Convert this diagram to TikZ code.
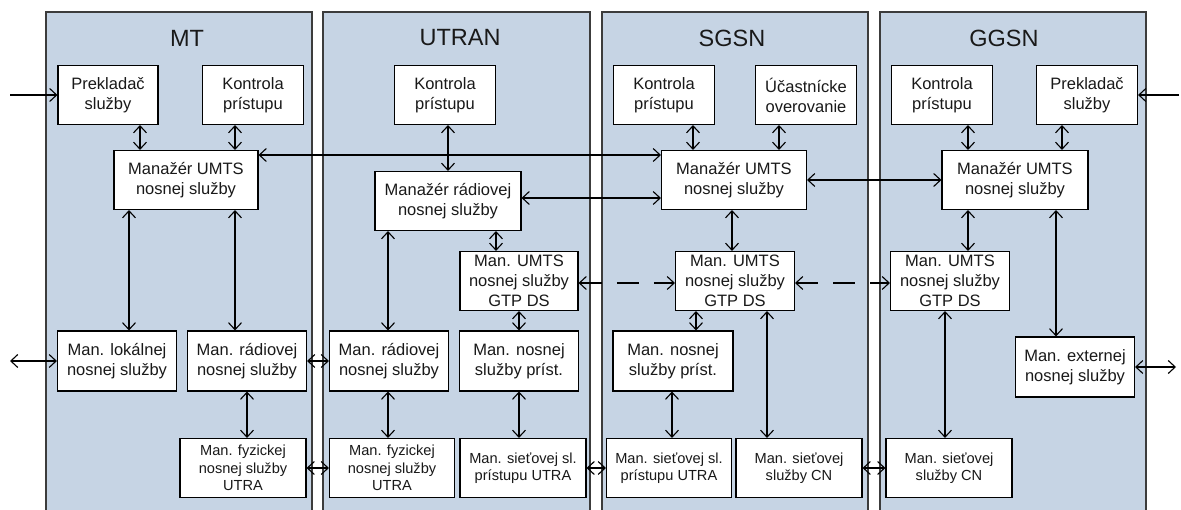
\documentclass[tikz,border=0pt]{standalone}
\usepackage{fontspec}
\setmainfont{Liberation Sans}
\usetikzlibrary{arrows.meta}
\definecolor{panelfill}{RGB}{198,212,228}
\definecolor{panelline}{RGB}{60,60,60}
\definecolor{txt}{RGB}{25,25,25}
\begin{document}
\begin{tikzpicture}[x=1pt,y=-1pt,
  >={Straight Barb[length=7pt,width=13pt]},
  panelborder/.style={draw=panelline,line width=1.3pt},
  box/.style={draw=black,fill=white,line width=1.1pt,align=center,inner sep=0pt,text=txt,font=\fontsize{16.5}{20}\selectfont},
  smallbox/.style={box,font=\fontsize{14.6}{17.5}\selectfont},
  paneltitle/.style={text=txt,font=\fontsize{23.5}{28}\selectfont},
  conn/.style={<->,line width=1.1pt},
  oneway/.style={->,line width=1.1pt},
  dashconn/.style={<->,line width=1.1pt,dash pattern=on 22pt off 15pt}
]
\useasboundingbox (0,0) rectangle (1181,510);
% panels
\foreach \l/\r in {46/312, 323/590, 602/868, 880/1146} {
  \fill[panelfill] (\l,12) rectangle (\r,512);
  \draw[panelborder] (\l,512) -- (\l,12) -- (\r,12) -- (\r,512);
}
\node[paneltitle] (tMT) at (187,38) {MT};
\node[paneltitle] (tUT) at (460,38) {UTRAN};
\node[paneltitle] (tSG) at (732,38) {SGSN};
\node[paneltitle] (tGG) at (1004,38) {GGSN};

% MT
\node[box,minimum width=100,minimum height=59] (mt_pre) at (108,95) {Prekladač\\služby};
\node[box,minimum width=101,minimum height=59] (mt_kon) at (253,95) {Kontrola\\prístupu};
\node[box,minimum width=144,minimum height=59] (mt_man) at (186,180) {Manažér UMTS\\nosnej služby};
\node[box,minimum width=119,minimum height=60] (mt_lok) at (117,361) {Man. lokálnej\\nosnej služby};
\node[box,minimum width=119,minimum height=60] (mt_rad) at (247,361) {Man. rádiovej\\nosnej služby};
\node[smallbox,minimum width=126,minimum height=59] (mt_fyz) at (243,468) {Man. fyzickej\\nosnej služby\\UTRA};

% UTRAN
\node[box,minimum width=101,minimum height=59] (ut_kon) at (445,95) {Kontrola\\prístupu};
\node[box,minimum width=146,minimum height=59] (ut_rad) at (448,201) {Manažér rádiovej\\nosnej služby};
\node[box,minimum width=118,minimum height=59] (ut_gtp) at (519,281) {Man. UMTS\\nosnej služby\\GTP DS};
\node[box,minimum width=119,minimum height=60] (ut_rad2) at (389,361) {Man. rádiovej\\nosnej služby};
\node[box,minimum width=119,minimum height=60] (ut_pri) at (519,361) {Man. nosnej\\služby príst.};
\node[smallbox,minimum width=125,minimum height=59] (ut_fyz) at (392,468) {Man. fyzickej\\nosnej služby\\UTRA};
\node[smallbox,minimum width=126,minimum height=59] (ut_sie) at (523,468) {Man. sieťovej sl.\\prístupu UTRA};

% SGSN
\node[box,minimum width=101,minimum height=59] (sg_kon) at (664,95) {Kontrola\\prístupu};
\node[box,minimum width=101,minimum height=59] (sg_uca) at (806,95) {Účastnícke\\overovanie};
\node[box,minimum width=145,minimum height=59] (sg_man) at (734,180) {Manažér UMTS\\nosnej služby};
\node[box,minimum width=119,minimum height=59] (sg_gtp) at (735,281) {Man. UMTS\\nosnej služby\\GTP DS};
\node[box,minimum width=120,minimum height=60] (sg_pri) at (673,361) {Man. nosnej\\služby príst.};
\node[smallbox,minimum width=125,minimum height=59] (sg_sie) at (669,468) {Man. sieťovej sl.\\prístupu UTRA};
\node[smallbox,minimum width=126,minimum height=59] (sg_cn) at (799,468) {Man. sieťovej\\služby CN};

% GGSN
\node[box,minimum width=101,minimum height=59] (gg_kon) at (942,95) {Kontrola\\prístupu};
\node[box,minimum width=101,minimum height=59] (gg_pre) at (1087,95) {Prekladač\\služby};
\node[box,minimum width=146,minimum height=59] (gg_man) at (1015,180) {Manažér UMTS\\nosnej služby};
\node[box,minimum width=119,minimum height=59] (gg_gtp) at (950,281) {Man. UMTS\\nosnej služby\\GTP DS};
\node[box,minimum width=119,minimum height=60] (gg_ext) at (1075,367) {Man. externej\\nosnej služby};
\node[smallbox,minimum width=126,minimum height=59] (gg_cn) at (949,468) {Man. sieťovej\\služby CN};

% free ends
\coordinate (inL) at (10,95);
\coordinate (outL) at (10,361);
\coordinate (inR) at (1179,95);
\coordinate (outR) at (1176,367);

% MT connectors
\draw[oneway] (inL) -- (mt_pre.west);
\draw[conn] (140,0 |- mt_pre.south) -- (140,0 |- mt_man.north);
\draw[conn] (235,0 |- mt_kon.south) -- (235,0 |- mt_man.north);
\draw[conn] (mt_man.east |- 0,155) -- (sg_man.west |- 0,155);
\draw[conn] (129,0 |- mt_man.south) -- (129,0 |- mt_lok.north);
\draw[conn] (235,0 |- mt_man.south) -- (235,0 |- mt_rad.north);
\draw[conn] (outL) -- (mt_lok.west);
\draw[conn] (mt_rad.east) -- (ut_rad2.west);
\draw[conn] (247,0 |- mt_rad.south) -- (247,0 |- mt_fyz.north);
\draw[conn] (mt_fyz.east) -- (ut_fyz.west);

% UTRAN connectors
\draw[conn] (448,0 |- ut_kon.south) -- (448,0 |- ut_rad.north);
\draw[conn] (ut_rad.east |- 0,198) -- (sg_man.west |- 0,198);
\draw[conn] (496,0 |- ut_rad.south) -- (496,0 |- ut_gtp.north);
\draw[conn] (388,0 |- ut_rad.south) -- (388,0 |- ut_rad2.north);
\draw[conn] (519,0 |- ut_gtp.south) -- (519,0 |- ut_pri.north);
\draw[conn] (388,0 |- ut_rad2.south) -- (388,0 |- ut_fyz.north);
\draw[conn] (519,0 |- ut_pri.south) -- (519,0 |- ut_sie.north);
\draw[conn] (ut_sie.east) -- (sg_sie.west);
\draw[dashconn] (ut_gtp.east |- 0,283) -- (sg_gtp.west |- 0,283);

% SGSN connectors
\draw[conn] (693,0 |- sg_kon.south) -- (693,0 |- sg_man.north);
\draw[conn] (779,0 |- sg_uca.south) -- (779,0 |- sg_man.north);
\draw[conn] (sg_man.east) -- (gg_man.west);
\draw[conn] (732,0 |- sg_man.south) -- (732,0 |- sg_gtp.north);
\draw[conn] (696,0 |- sg_gtp.south) -- (696,0 |- sg_pri.north);
\draw[conn] (767,0 |- sg_gtp.south) -- (767,0 |- sg_cn.north);
\draw[conn] (672,0 |- sg_pri.south) -- (672,0 |- sg_sie.north);
\draw[conn] (sg_cn.east) -- (gg_cn.west);
\draw[dashconn] (sg_gtp.east |- 0,283) -- (gg_gtp.west |- 0,283);

% GGSN connectors
\draw[conn] (968,0 |- gg_kon.south) -- (968,0 |- gg_man.north);
\draw[conn] (1062,0 |- gg_pre.south) -- (1062,0 |- gg_man.north);
\draw[oneway] (inR) -- (gg_pre.east);
\draw[conn] (968,0 |- gg_man.south) -- (968,0 |- gg_gtp.north);
\draw[conn] (1056,0 |- gg_man.south) -- (1056,0 |- gg_ext.north);
\draw[conn] (gg_ext.east) -- (outR);
\draw[conn] (945,0 |- gg_gtp.south) -- (945,0 |- gg_cn.north);
\end{tikzpicture}
\end{document}
